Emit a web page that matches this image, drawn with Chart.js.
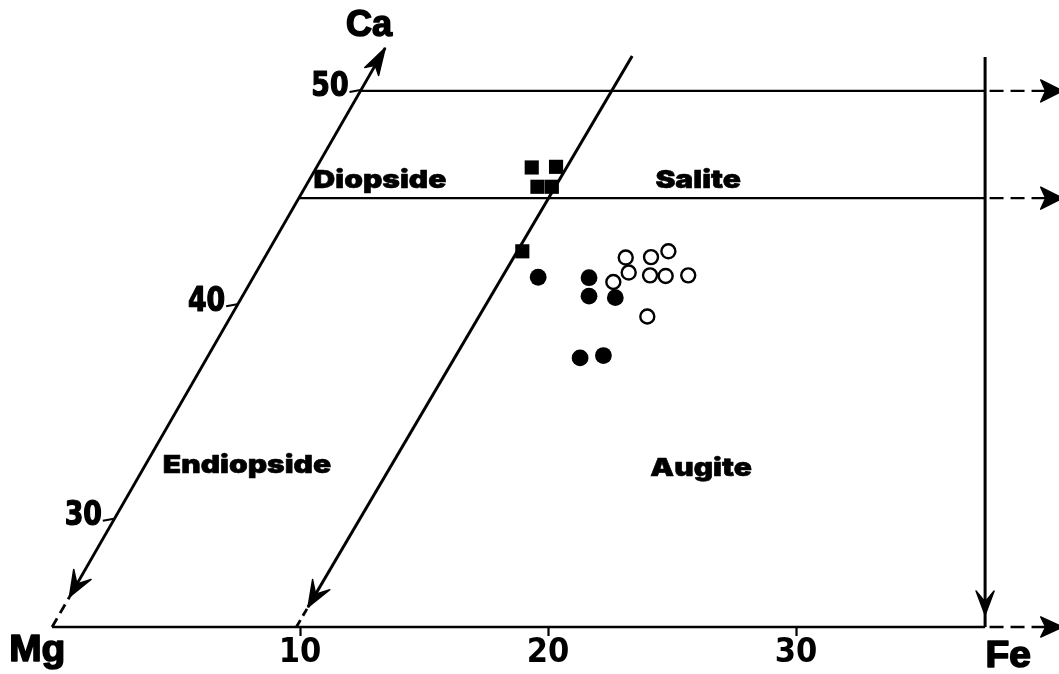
<!DOCTYPE html>
<html>
<head>
<meta charset="utf-8">
<script src="https://cdn.jsdelivr.net/npm/chart.js@4.4.1/dist/chart.umd.min.js"></script>
<style>
  html, body { margin: 0; padding: 0; background: #fff; }
  #wrap { width: 1059px; height: 674px; }
</style>
</head>
<body>
<div id="wrap"><canvas id="pyx" width="1059" height="674"></canvas></div>
<script>
// plotted x = position along the Mg-Fe base, y = Ca
const xTickValues = [10, 20, 30];
const caTickValues = [30, 40, 50];

// analyses
const squareX = [19.34, 20.32, 19.57, 20.15, 18.96];
const squareCa = [46.43, 46.46, 45.53, 45.53, 42.52];
const filledX = [19.60, 21.65, 21.65, 22.71, 21.29, 22.23];
const filledCa = [41.31, 41.29, 40.43, 40.36, 37.55, 37.66];
const openX = [23.13, 23.25, 22.63, 24.15, 24.85, 24.11, 24.74, 25.65, 24.00];
const openCa = [42.23, 41.53, 41.09, 42.25, 42.52, 41.40, 41.37, 41.40, 39.48];

// field boundaries
const caAxisX = [0.70, 13.43];
const caAxisCa = [26.4, 52.0];
const caTailX = [0, 0.70];
const caTailCa = [25, 26.4];
const midLineX = [10.32, 23.39];
const midLineCa = [25.93, 51.63];
const midTailX = [9.85, 10.32];
const midTailCa = [25, 25.93];
const baseX = [0, 37.62];
const baseCa = [25, 25];
const baseTailX = [37.8, 40.75];
const ca50X = [12.43, 37.62];
const ca50Ca = [50, 50];
const ca45X = [9.95, 37.62];
const ca45Ca = [45, 45];
const rightTailX = [37.8, 40.75];
const feLineX = [37.62, 37.62, 37.62];
const feLineCa = [51.58, 25.56, 25];

// text
const fieldNames = ['Diopside', 'Salite', 'Endiopside', 'Augite'];
const fieldX = [13.22, 26.05, 7.86, 26.17];
const fieldCa = [45.80, 45.80, 32.55, 32.41];
const cornerNames = ['Ca', 'Mg', 'Fe'];
const cornerX = [12.78, -0.60, 38.55];
const cornerCa = [53.03, 23.90, 23.62];

const pts = (xs, ys) => xs.map((x, i) => ({ x, y: ys[i] }));

function lineSet (xs, ys, extra = {}) {
  return Object.assign({
    type: 'scatter',
    data: pts(xs, ys),
    showLine: true,
    pointRadius: 0,
    borderColor: '#000',
    borderWidth: 2.4,
    fill: false,
    clip: false,
    order: 2
  }, extra);
}

// arrowheads drawn at a dataset point, pointing away from another point
const arrowHeads = {
  id: 'arrowHeads',
  afterDatasetsDraw (chart) {
    const { ctx } = chart;
    chart.data.datasets.forEach((ds, i) => {
      if (!ds.arrows) return;
      const meta = chart.getDatasetMeta(i);
      ds.arrows.forEach(a => {
        const p = meta.data[a.tip], q = meta.data[a.from];
        let dx = p.x - q.x, dy = p.y - q.y;
        const d = Math.hypot(dx, dy) || 1;
        dx /= d; dy /= d;
        const nx = -dy, ny = dx;
        const L = a.len, W = a.half, N = a.notch;
        ctx.save();
        ctx.fillStyle = '#000';
        ctx.strokeStyle = '#000';
        ctx.lineWidth = 1.5;
        ctx.lineJoin = 'round';
        ctx.beginPath();
        ctx.moveTo(p.x, p.y);
        ctx.lineTo(p.x - L * dx + W * nx, p.y - L * dy + W * ny);
        ctx.lineTo(p.x - N * dx, p.y - N * dy);
        ctx.lineTo(p.x - L * dx - W * nx, p.y - L * dy - W * ny);
        ctx.closePath();
        ctx.fill();
        ctx.stroke();
        ctx.restore();
      });
    });
  }
};

// heavy text: fill plus an outline, optionally stretched sideways
function heavyText (ctx, text, px, py, font, sx, weight, align = 'center') {
  ctx.save();
  ctx.translate(px, py);
  ctx.scale(sx, 1);
  ctx.font = font;
  ctx.textAlign = align;
  ctx.textBaseline = 'middle';
  ctx.fillStyle = '#000';
  ctx.strokeStyle = '#000';
  ctx.lineJoin = 'round';
  ctx.lineWidth = weight;
  ctx.fillText(text, 0, 0);
  if (weight > 0) ctx.strokeText(text, 0, 0);
  ctx.restore();
}

// slanted Ca scale, field names and corner names
const fieldLabels = {
  id: 'fieldLabels',
  afterDatasetsDraw (chart) {
    const { ctx, scales: { x, y } } = chart;
    const t = v => (v - caAxisCa[0]) / (caAxisCa[1] - caAxisCa[0]);
    caTickValues.forEach(v => {
      const ax = caAxisX[0] + t(v) * (caAxisX[1] - caAxisX[0]);
      const px = x.getPixelForValue(ax), py = y.getPixelForValue(v);
      ctx.save();
      ctx.strokeStyle = '#000';
      ctx.lineWidth = 2;
      ctx.beginPath();
      ctx.moveTo(px - 11, py + 1);
      ctx.lineTo(px, py - 1);
      ctx.stroke();
      ctx.restore();
      heavyText(ctx, String(v), px - 12, py - 3,
        'bold 33px "Liberation Sans Narrow", "DejaVu Sans Condensed", "Liberation Sans", sans-serif', 0.9, 1.2, 'right');
    });
    fieldNames.forEach((s, i) => {
      heavyText(ctx, s, x.getPixelForValue(fieldX[i]), y.getPixelForValue(fieldCa[i]),
        '900 25px Inter, "DejaVu Sans", sans-serif', 1.2, 0.6);
    });
    cornerNames.forEach((s, i) => {
      heavyText(ctx, s, x.getPixelForValue(cornerX[i]), y.getPixelForValue(cornerCa[i]),
        'bold 36px "Liberation Sans", Arial, sans-serif', s === 'Ca' ? 1 : 1.08, 1.6);
    });
  }
};

const ctx = document.getElementById('pyx').getContext('2d');
new Chart(ctx, {
  type: 'scatter',
  data: {
    datasets: [
      { data: pts(squareX, squareCa), pointStyle: 'rect', pointRadius: 10, backgroundColor: '#000', borderWidth: 0, order: 0, clip: false },
      { data: pts(filledX, filledCa), pointStyle: 'circle', pointRadius: 8.4, backgroundColor: '#000', borderWidth: 0, order: 0, clip: false },
      { data: pts(openX, openCa), pointStyle: 'circle', pointRadius: 7, backgroundColor: '#fff', borderColor: '#000', borderWidth: 2.4, order: 0, clip: false },

      lineSet(caAxisX, caAxisCa, { borderWidth: 2.8,
        arrows: [{ tip: 1, from: 0, len: 27, half: 8, notch: 20 }, { tip: 0, from: 1, len: 26, half: 10, notch: 15 }] }),
      lineSet(caTailX, caTailCa, { borderWidth: 2.8, borderDash: [10, 6] }),
      lineSet(midLineX, midLineCa, { borderWidth: 3,
        arrows: [{ tip: 0, from: 1, len: 26, half: 10, notch: 15 }] }),
      lineSet(midTailX, midTailCa, { borderWidth: 2.8, borderDash: [8, 5] }),
      lineSet(baseX, baseCa),
      lineSet(baseTailX, baseCa, { borderDash: [14, 7],
        arrows: [{ tip: 1, from: 0, len: 22, half: 10, notch: 17 }] }),
      lineSet(ca50X, ca50Ca),
      lineSet(rightTailX, ca50Ca, { borderDash: [14, 7],
        arrows: [{ tip: 1, from: 0, len: 22, half: 11, notch: 17 }] }),
      lineSet(ca45X, ca45Ca),
      lineSet(rightTailX, ca45Ca, { borderDash: [14, 7],
        arrows: [{ tip: 1, from: 0, len: 22, half: 11, notch: 17 }] }),
      lineSet(feLineX, feLineCa, { borderWidth: 3,
        arrows: [{ tip: 1, from: 0, len: 24, half: 9, notch: 13 }] })
    ]
  },
  options: {
    responsive: false,
    maintainAspectRatio: false,
    devicePixelRatio: 1,
    animation: false,
    events: [],
    layout: { padding: 0, autoPadding: false },
    plugins: { legend: { display: false }, tooltip: { enabled: false } },
    scales: {
      x: {
        type: 'linear',
        min: -2.1,
        max: 40.6,
        afterBuildTicks: s => { s.ticks = xTickValues.map(v => ({ value: v })); },
        afterFit: s => { s.height = 47; },
        border: { display: false },
        grid: { drawOnChartArea: false, drawTicks: true, tickLength: 9, tickColor: '#000', tickWidth: 2.2, color: '#000' },
        ticks: {
          color: '#000',
          padding: 0,
          maxRotation: 0,
          autoSkip: false,
          font: { family: '"Liberation Sans Narrow", "DejaVu Sans Condensed", "Liberation Sans", sans-serif', weight: 'bold', size: 34, lineHeight: 1 }
        }
      },
      y: { type: 'linear', display: false, min: 25, max: 54.24 }
    }
  },
  plugins: [arrowHeads, fieldLabels]
});
</script>
</body>
</html>
